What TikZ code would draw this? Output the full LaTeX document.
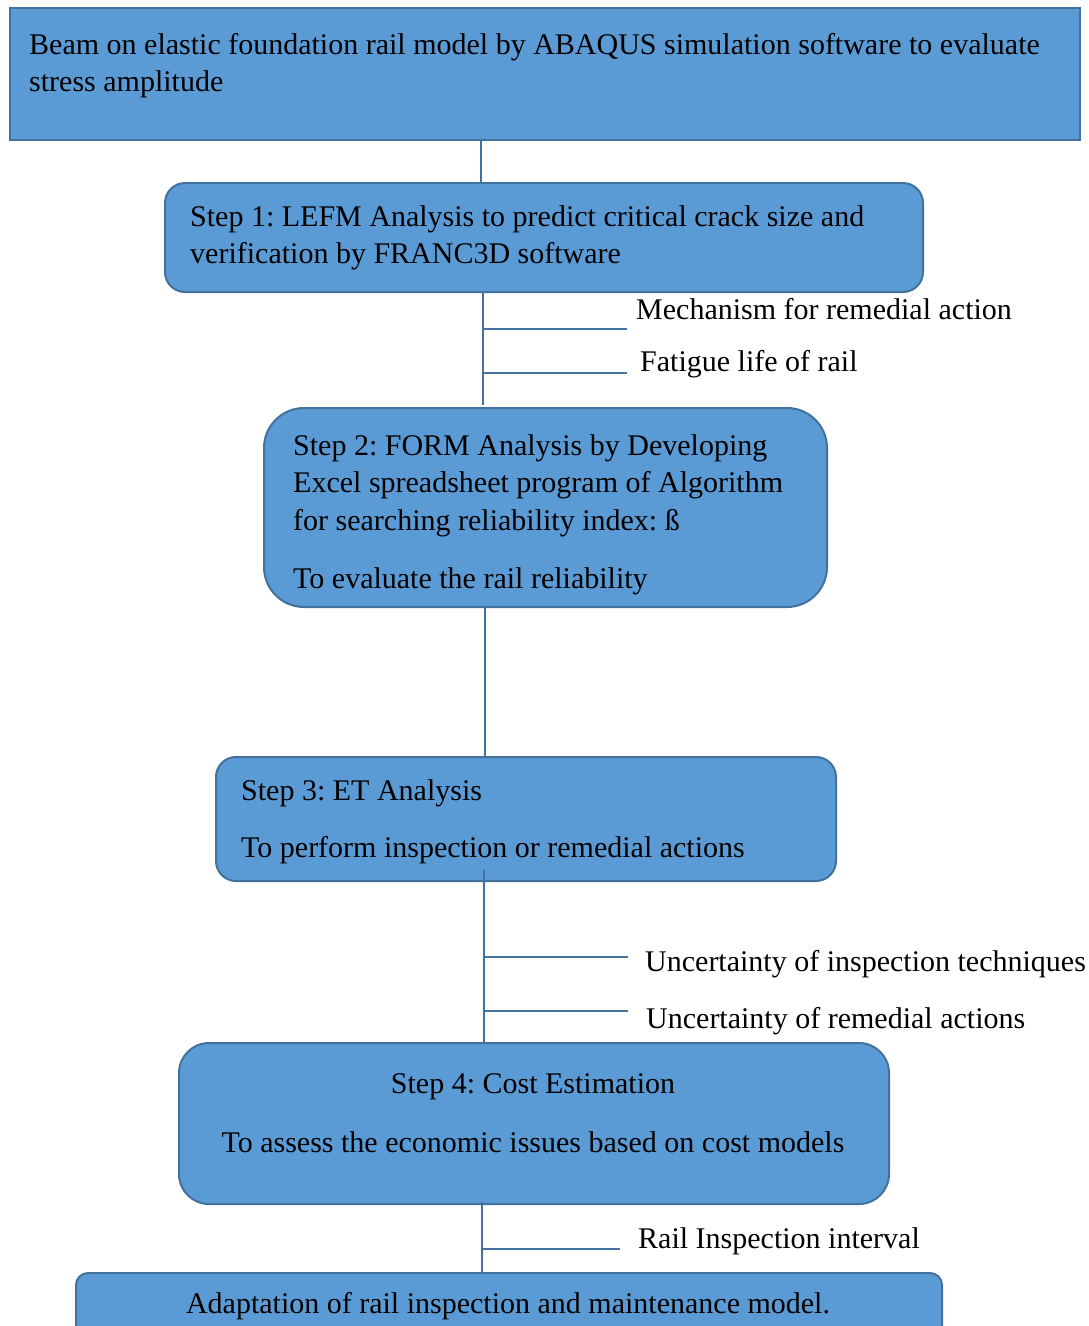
\documentclass[tikz,border=0pt]{standalone}
\usepackage{fontspec}
\setmainfont{Liberation Serif}
\usetikzlibrary{positioning,calc}
\definecolor{StepFill}{RGB}{91,155,213}
\definecolor{StepEdge}{RGB}{65,113,156}
\definecolor{LinkBlue}{RGB}{68,114,160}
\frenchspacing

\begin{document}
\begin{tikzpicture}[x=1pt,y=-1pt,
  every node/.style={font=\fontsize{30}{37.5}\selectfont},
  stepbox/.style={draw=StepEdge, fill=StepFill, line width=2pt, outer sep=0pt, inner sep=0pt, anchor=north west},
  steptext/.style={inner sep=0pt, align=left, anchor=north west},
  link/.style={draw=LinkBlue, line width=2pt},
  branch/.style={draw=LinkBlue, line width=1.8pt},
  note/.style={inner sep=0pt, anchor=base west}]
  \useasboundingbox (0,0) rectangle (1089,1326);
  % boxes
  \node[stepbox, minimum width=1070pt, minimum height=132pt] (box0) at (10,8) {};
  \node[stepbox, rounded corners=20pt, minimum width=758pt, minimum height=109pt] (box1) at (165,183) {};
  \node[stepbox, rounded corners=40pt, minimum width=563pt, minimum height=199pt] (box2) at (264,408) {};
  \node[stepbox, rounded corners=20pt, minimum width=620pt, minimum height=124pt] (box3) at (216,757) {};
  \node[stepbox, rounded corners=30pt, minimum width=710pt, minimum height=161pt] (box4) at (179,1043) {};
  \node[stepbox, rounded corners=12pt, minimum width=866pt, minimum height=72pt] (box5) at (76,1273) {};
  % box texts
  \node[steptext] (t0) at (29,27.75) {\strut Beam on elastic foundation rail model by ABAQUS simulation software to evaluate\\stress amplitude};
  \node[steptext] (t1) at (190,199.75) {\strut Step 1: LEFM Analysis to predict critical crack size and\\verification by FRANC3D software};
  \node[steptext] (t2) at (293,428.75) {\strut Step 2: FORM Analysis by Developing\\Excel spreadsheet program of Algorithm\\for searching reliability index: ß\\[20.5pt]To evaluate the rail reliability};
  \node[steptext] (t3) at (241,773.75) {\strut Step 3: ET Analysis\\[19.5pt]To perform inspection or remedial actions};
  \node[steptext, align=center, anchor=north] (t4) at (533,1066.75) {\strut Step 4: Cost Estimation\\[21.5pt]To assess the economic issues based on cost models};
  \node[inner sep=0pt, anchor=base] (t5) at (508,1313) {Adaptation of rail inspection and maintenance model.};
  % side notes
  \node[note] (n1) at (636,319) {Mechanism for remedial action};
  \node[note] (n2) at (640,371) {Fatigue life of rail};
  \node[note] (n3) at (645,971) {Uncertainty of inspection techniques};
  \node[note] (n4) at (646,1028) {Uncertainty of remedial actions};
  \node[note] (n5) at (638,1248) {Rail Inspection interval};
  % trunk lines
  \coordinate (j0) at (481,0);
  \coordinate (j1) at (483,0);
  \coordinate (j2) at (485,0);
  \coordinate (j3) at (484,0);
  \coordinate (j4) at (482,0);
  \draw[link] (box0.south -| j0) -- (box1.north -| j0);
  \draw[link] (box1.south -| j1) -- ([yshift=3pt]box2.north -| j1);
  \draw[link] (box2.south -| j2) -- (box3.north -| j2);
  \draw[link] ([yshift=11pt]box3.south -| j3) -- (box4.north -| j3);
  \draw[link] ([yshift=2pt]box4.south -| j4) -- (box5.north -| j4);
  % branches
  \coordinate (b1) at (627,329);
  \coordinate (b2) at (627,373);
  \coordinate (b3) at (628,957);
  \coordinate (b4) at (628,1011);
  \coordinate (b5) at (620,1249);
  \draw[branch] (j1 |- b1) -- (b1);
  \draw[branch] (j1 |- b2) -- (b2);
  \draw[branch] (j3 |- b3) -- (b3);
  \draw[branch] (j3 |- b4) -- (b4);
  \draw[branch] (j4 |- b5) -- (b5);
\end{tikzpicture}
\end{document}
